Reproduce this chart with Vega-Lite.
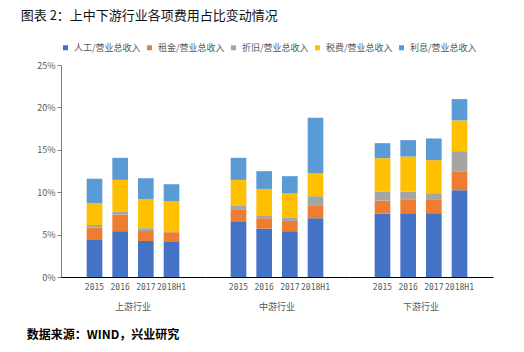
{
  "$schema": "https://vega.github.io/schema/vega-lite/v6.json",
  "padding": {"left": 20, "top": 10, "right": 10, "bottom": 4},
  "background": "white",
  "title": {"text": "图表 2：上中下游行业各项费用占比变动情况", "anchor": "start", "frame": "bounds", "dx": -6, "fontSize": 13, "font": "Noto Sans CJK SC", "fontWeight": "normal", "color": "#111111", "offset": 20},
  "vconcat": [
    {
      "title": {"text": "数据来源：WIND，兴业研究", "orient": "bottom", "anchor": "start", "frame": "bounds", "dx": -10, "fontSize": 12, "font": "Noto Sans CJK SC", "fontWeight": "bold", "color": "#000000", "offset": 18},
      "data": {
        "values": [
          {"g": "上游行业", "year": "2015", "k": 1, "cat": "人工/营业总收入", "v": 4.45},
          {"g": "上游行业", "year": "2015", "k": 2, "cat": "租金/营业总收入", "v": 1.38},
          {"g": "上游行业", "year": "2015", "k": 3, "cat": "折旧/营业总收入", "v": 0.30},
          {"g": "上游行业", "year": "2015", "k": 4, "cat": "税费/营业总收入", "v": 2.56},
          {"g": "上游行业", "year": "2015", "k": 5, "cat": "利息/营业总收入", "v": 2.90},
          {"g": "上游行业", "year": "2016", "k": 1, "cat": "人工/营业总收入", "v": 5.40},
          {"g": "上游行业", "year": "2016", "k": 2, "cat": "租金/营业总收入", "v": 1.97},
          {"g": "上游行业", "year": "2016", "k": 3, "cat": "折旧/营业总收入", "v": 0.30},
          {"g": "上游行业", "year": "2016", "k": 4, "cat": "税费/营业总收入", "v": 3.78},
          {"g": "上游行业", "year": "2016", "k": 5, "cat": "利息/营业总收入", "v": 2.60},
          {"g": "上游行业", "year": "2017", "k": 1, "cat": "人工/营业总收入", "v": 4.25},
          {"g": "上游行业", "year": "2017", "k": 2, "cat": "租金/营业总收入", "v": 1.18},
          {"g": "上游行业", "year": "2017", "k": 3, "cat": "折旧/营业总收入", "v": 0.32},
          {"g": "上游行业", "year": "2017", "k": 4, "cat": "税费/营业总收入", "v": 3.42},
          {"g": "上游行业", "year": "2017", "k": 5, "cat": "利息/营业总收入", "v": 2.48},
          {"g": "上游行业", "year": "2018H1", "k": 1, "cat": "人工/营业总收入", "v": 4.13},
          {"g": "上游行业", "year": "2018H1", "k": 2, "cat": "租金/营业总收入", "v": 1.15},
          {"g": "上游行业", "year": "2018H1", "k": 3, "cat": "折旧/营业总收入", "v": 0.12},
          {"g": "上游行业", "year": "2018H1", "k": 4, "cat": "税费/营业总收入", "v": 3.54},
          {"g": "上游行业", "year": "2018H1", "k": 5, "cat": "利息/营业总收入", "v": 2.00},
          {"g": "中游行业", "year": "2015", "k": 1, "cat": "人工/营业总收入", "v": 6.58},
          {"g": "中游行业", "year": "2015", "k": 2, "cat": "租金/营业总收入", "v": 1.33},
          {"g": "中游行业", "year": "2015", "k": 3, "cat": "折旧/营业总收入", "v": 0.47},
          {"g": "中游行业", "year": "2015", "k": 4, "cat": "税费/营业总收入", "v": 3.07},
          {"g": "中游行业", "year": "2015", "k": 5, "cat": "利息/营业总收入", "v": 2.60},
          {"g": "中游行业", "year": "2016", "k": 1, "cat": "人工/营业总收入", "v": 5.71},
          {"g": "中游行业", "year": "2016", "k": 2, "cat": "租金/营业总收入", "v": 1.22},
          {"g": "中游行业", "year": "2016", "k": 3, "cat": "折旧/营业总收入", "v": 0.35},
          {"g": "中游行业", "year": "2016", "k": 4, "cat": "税费/营业总收入", "v": 3.11},
          {"g": "中游行业", "year": "2016", "k": 5, "cat": "利息/营业总收入", "v": 2.09},
          {"g": "中游行业", "year": "2017", "k": 1, "cat": "人工/营业总收入", "v": 5.40},
          {"g": "中游行业", "year": "2017", "k": 2, "cat": "租金/营业总收入", "v": 1.21},
          {"g": "中游行业", "year": "2017", "k": 3, "cat": "折旧/营业总收入", "v": 0.36},
          {"g": "中游行业", "year": "2017", "k": 4, "cat": "税费/营业总收入", "v": 2.88},
          {"g": "中游行业", "year": "2017", "k": 5, "cat": "利息/营业总收入", "v": 2.04},
          {"g": "中游行业", "year": "2018H1", "k": 1, "cat": "人工/营业总收入", "v": 6.93},
          {"g": "中游行业", "year": "2018H1", "k": 2, "cat": "租金/营业总收入", "v": 1.45},
          {"g": "中游行业", "year": "2018H1", "k": 3, "cat": "折旧/营业总收入", "v": 1.15},
          {"g": "中游行业", "year": "2018H1", "k": 4, "cat": "税费/营业总收入", "v": 2.71},
          {"g": "中游行业", "year": "2018H1", "k": 5, "cat": "利息/营业总收入", "v": 6.53},
          {"g": "下游行业", "year": "2015", "k": 1, "cat": "人工/营业总收入", "v": 7.49},
          {"g": "下游行业", "year": "2015", "k": 2, "cat": "租金/营业总收入", "v": 1.53},
          {"g": "下游行业", "year": "2015", "k": 3, "cat": "折旧/营业总收入", "v": 1.02},
          {"g": "下游行业", "year": "2015", "k": 4, "cat": "税费/营业总收入", "v": 3.97},
          {"g": "下游行业", "year": "2015", "k": 5, "cat": "利息/营业总收入", "v": 1.77},
          {"g": "下游行业", "year": "2016", "k": 1, "cat": "人工/营业总收入", "v": 7.52},
          {"g": "下游行业", "year": "2016", "k": 2, "cat": "租金/营业总收入", "v": 1.65},
          {"g": "下游行业", "year": "2016", "k": 3, "cat": "折旧/营业总收入", "v": 0.87},
          {"g": "下游行业", "year": "2016", "k": 4, "cat": "税费/营业总收入", "v": 4.17},
          {"g": "下游行业", "year": "2016", "k": 5, "cat": "利息/营业总收入", "v": 1.93},
          {"g": "下游行业", "year": "2017", "k": 1, "cat": "人工/营业总收入", "v": 7.52},
          {"g": "下游行业", "year": "2017", "k": 2, "cat": "租金/营业总收入", "v": 1.57},
          {"g": "下游行业", "year": "2017", "k": 3, "cat": "折旧/营业总收入", "v": 0.79},
          {"g": "下游行业", "year": "2017", "k": 4, "cat": "税费/营业总收入", "v": 3.90},
          {"g": "下游行业", "year": "2017", "k": 5, "cat": "利息/营业总收入", "v": 2.56},
          {"g": "下游行业", "year": "2018H1", "k": 1, "cat": "人工/营业总收入", "v": 10.24},
          {"g": "下游行业", "year": "2018H1", "k": 2, "cat": "租金/营业总收入", "v": 2.16},
          {"g": "下游行业", "year": "2018H1", "k": 3, "cat": "折旧/营业总收入", "v": 2.44},
          {"g": "下游行业", "year": "2018H1", "k": 4, "cat": "税费/营业总收入", "v": 3.62},
          {"g": "下游行业", "year": "2018H1", "k": 5, "cat": "利息/营业总收入", "v": 2.52}
        ]
      },
      "facet": {
        "column": {
          "field": "g",
          "sort": ["上游行业", "中游行业", "下游行业"],
          "title": null,
          "header": {
            "labelOrient": "bottom",
            "labelFont": "Noto Sans CJK SC",
            "labelFontSize": 9,
            "labelColor": "#595959",
            "labelPadding": 12
          }
        }
      },
      "spacing": 0,
      "spec": {
        "width": 144,
        "height": 212,
        "mark": {"type": "bar"},
        "encoding": {
          "x": {
            "field": "year",
            "type": "nominal",
            "sort": ["2015", "2016", "2017", "2018H1"],
            "scale": {"paddingInner": 0.39, "paddingOuter": 1.13},
            "axis": {"title": null, "labelAngle": 0, "labelFontSize": 8, "labelColor": "#595959", "labelFont": "DejaVu Sans Mono", "labelOverlap": false, "ticks": false, "domainColor": "#000000", "labelPadding": 6}
          },
          "y": {
            "field": "v",
            "type": "quantitative",
            "stack": "zero",
            "scale": {"domain": [0, 25]},
            "axis": {"title": null, "values": [0, 5, 10, 15, 20, 25], "labelExpr": "datum.value + '%'", "grid": false, "labelFontSize": 9, "labelColor": "#595959", "domainColor": "#7f7f7f", "tickColor": "#7f7f7f", "tickSize": 4}
          },
          "order": {"field": "k", "type": "quantitative", "sort": "ascending"},
          "color": {
            "field": "cat",
            "type": "nominal",
            "scale": {"domain": ["人工/营业总收入", "租金/营业总收入", "折旧/营业总收入", "税费/营业总收入", "利息/营业总收入"], "range": ["#4472C4", "#ED7D31", "#A5A5A5", "#FFC000", "#5B9BD5"]},
            "legend": {"title": null, "orient": "top", "direction": "horizontal", "symbolType": "square", "symbolSize": 25, "labelFontSize": 9, "labelColor": "#595959", "labelFont": "Noto Sans CJK SC", "columnPadding": 4, "symbolOffset": 0, "offset": 8}
          }
        }
      }
    }
  ],
  "config": {
    "view": {"stroke": null},
    "font": "Noto Sans CJK SC"
  }
}
